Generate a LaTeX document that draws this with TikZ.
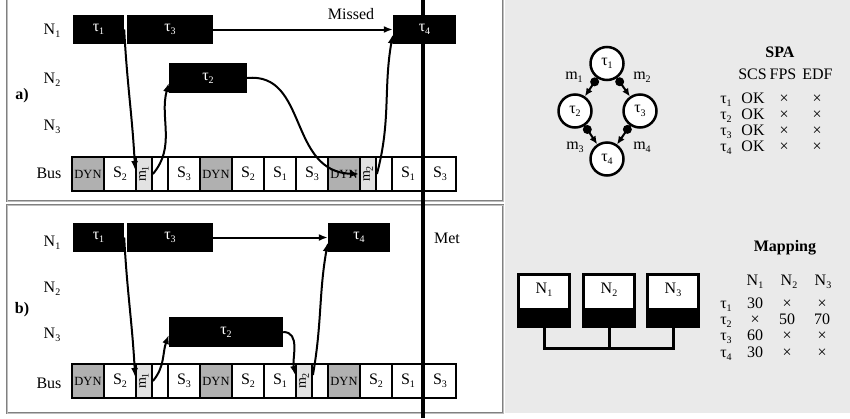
\documentclass[tikz,border=0pt]{standalone}
\usepackage{fontspec}
\setmainfont{Liberation Serif}
\usetikzlibrary{arrows.meta}
\definecolor{bgg}{RGB}{234,234,234}
\definecolor{dyng}{RGB}{176,176,176}
\definecolor{msg}{RGB}{226,226,226}
\definecolor{frameg}{RGB}{128,128,128}
\definecolor{framel}{RGB}{190,190,190}
\newcommand{\sbs}[1]{\raisebox{-0.45ex}{\fontsize{10}{10}\selectfont #1}}
\newcommand{\tms}{×}
\begin{document}
\begin{tikzpicture}[x=1pt,y=-1pt,font=\fontsize{16}{18}\selectfont,
  task/.style={fill=black,text=white,inner sep=0pt,minimum height=29pt},
  slot/.style={draw=black,line width=1.8pt,fill=white,minimum width=32pt,minimum height=34pt,inner sep=0pt},
  dyn/.style={slot,fill=dyng,font=\fontsize{12.5}{12.5}\selectfont},
  msl/.style={slot,fill=msg,minimum width=16pt,font=\fontsize{14}{14}\selectfont},
  esl/.style={slot,minimum width=16pt},
  arr/.style={line width=2pt,-{Latex[length=9pt,width=7pt]}},
  lbl/.style={inner sep=0pt},
  tbl/.style={inner sep=0pt,text height=9pt,text depth=2pt},
  panel/.style={draw=frameg,double=framel,double distance=0.9pt,line width=0.9pt,fill=white},
  gnode/.style={circle,draw=black,line width=2.5pt,fill=white,minimum size=33pt,inner sep=0pt},
  garr/.style={line width=2pt,-{Latex[length=8pt,width=7pt]}},
  dotn/.style={circle,fill=black,minimum size=9pt,inner sep=0pt},
  nbox/.style={draw=black,line width=1.8pt,fill=white,minimum width=50pt,minimum height=51pt,inner sep=0pt},
  busl/.style={line width=3pt}
]
\useasboundingbox (0,0) rectangle (850,418);
\fill[white] (0,0) rectangle (850,418);
\fill[bgg] (505,0) rectangle (850,413);
% panels
\draw[panel] (7,-5) rectangle (503,201);
\draw[panel] (7,205) rectangle (503,413);

% ---------- panel a ----------
\node[lbl] (na1) at (52,31) {N\sbs{1}};
\node[lbl] (na2) at (52,80) {N\sbs{2}};
\node[lbl] (na3) at (52,127) {N\sbs{3}};
\node[lbl] (busa) at (49,173) {Bus};
\node[lbl,font=\fontsize{16}{18}\selectfont\bfseries] (la) at (22,96) {a)};

\node[task,minimum width=51pt] (t1a) at (98.5,29.5) {τ\sbs{1}};
\node[task,minimum width=86pt] (t3a) at (170,29.5) {τ\sbs{3}};
\node[task,minimum width=78pt,minimum height=30pt] (t2a) at (208,78) {τ\sbs{2}};

\node[dyn] (a1) at (88,174) {DYN};
\node[slot] (a2) at (120,174) {S\sbs{2}};
\node[msl] (m1a) at (144,174) {\rotatebox{90}{m\sbs{1}}};
\node[esl] (a4) at (160,174) {};
\node[slot] (a5) at (184,174) {S\sbs{3}};
\node[dyn] (a6) at (216,174) {DYN};
\node[slot] (a7) at (248,174) {S\sbs{2}};
\node[slot] (a8) at (280,174) {S\sbs{1}};
\node[slot] (a9) at (312,174) {S\sbs{3}};
\node[dyn] (a10) at (344,174) {DYN};
\node[msl] (m2a) at (368,174) {\rotatebox{90}{m\sbs{2}}};
\node[esl] (a12) at (384,174) {};
\node[slot] (a13) at (408,174) {S\sbs{1}};
\node[slot] (a14) at (440,174) {S\sbs{3}};

% ---------- panel b ----------
\node[lbl] (nb1l) at (52,243) {N\sbs{1}};
\node[lbl] (nb2l) at (52,289) {N\sbs{2}};
\node[lbl] (nb3l) at (52,335) {N\sbs{3}};
\node[lbl] (busb) at (49,383) {Bus};
\node[lbl,font=\fontsize{16}{18}\selectfont\bfseries] (lb) at (22,310) {b)};

\node[task,minimum width=51pt] (t1b) at (98.5,237.5) {τ\sbs{1}};
\node[task,minimum width=86pt] (t3b) at (170,237.5) {τ\sbs{3}};
\node[task,minimum width=62pt] (t4b) at (359,237.5) {τ\sbs{4}};
\node[task,minimum width=114pt,minimum height=30pt] (t2b) at (226,332) {τ\sbs{2}};

\node[dyn] (b1) at (88,381) {DYN};
\node[slot] (b2) at (120,381) {S\sbs{2}};
\node[msl] (m1b) at (144,381) {\rotatebox{90}{m\sbs{1}}};
\node[esl] (b4) at (160,381) {};
\node[slot] (b5) at (184,381) {S\sbs{3}};
\node[dyn] (b6) at (216,381) {DYN};
\node[slot] (b7) at (248,381) {S\sbs{2}};
\node[slot] (b8) at (280,381) {S\sbs{1}};
\node[msl] (m2b) at (304,381) {\rotatebox{90}{m\sbs{2}}};
\node[esl] (b10) at (320,381) {};
\node[dyn] (b11) at (344,381) {DYN};
\node[slot] (b12) at (376,381) {S\sbs{2}};
\node[slot] (b13) at (408,381) {S\sbs{1}};
\node[slot] (b14) at (440,381) {S\sbs{3}};

% deadline line
\coordinate (dtop) at (423,0);
\coordinate (dbot) at (423,418);
\draw[line width=4.5pt] (dtop) -- (dbot);
\node[task,minimum width=63pt] (t4a) at (424.5,29.5) {τ\sbs{4}};

\node[lbl] (missed) at (351,14) {Missed};
\node[lbl] (met) at (447,238) {Met};

% arrows a
\draw[arr] (t3a.east) -- (t4a.west);
\draw[arr] (t1a.east) to[out=-87,in=93] ([yshift=4pt]m1a.west);
\draw[arr] (m1a.east) to[out=50,in=-105] ([yshift=-5pt]t2a.west);
\draw[arr] (t2a.east) .. controls (308,72) and (288,172) .. (m2a.west);
\draw[arr] (m2a.east) to[out=75,in=-100] ([yshift=-5pt]t4a.west);

% arrows b
\draw[arr] (t3b.east) -- (t4b.west);
\draw[arr] (t1b.east) to[out=-87,in=93] ([yshift=4pt]m1b.west);
\draw[arr] (m1b.east) to[out=50,in=-110] ([yshift=-3pt]t2b.west);
\draw[arr] (t2b.east) to[out=0,in=100] ([yshift=6pt]m2b.west);
\draw[arr] ([yshift=6pt]m2b.east) to[out=80,in=-100] ([yshift=-5pt]t4b.west);

% ---------- task graph ----------
\node[gnode] (g1) at (607,63.5) {τ\sbs{1}};
\node[gnode] (g2) at (575,111) {τ\sbs{2}};
\node[gnode] (g3) at (640,111) {τ\sbs{3}};
\node[gnode] (g4) at (607,159) {τ\sbs{4}};
\draw[garr] (g1) -- node[dotn,pos=0.2] (d1) {} (g2);
\draw[garr] (g1) -- node[dotn,pos=0.2] (d2) {} (g3);
\draw[garr] (g2) -- node[dotn,pos=0.2] (d3) {} (g4);
\draw[garr] (g3) -- node[dotn,pos=0.2] (d4) {} (g4);
\node[lbl] (lm1) at (574,77) {m\sbs{1}};
\node[lbl] (lm2) at (642,77) {m\sbs{2}};
\node[lbl] (lm3) at (575,147) {m\sbs{3}};
\node[lbl] (lm4) at (642,147) {m\sbs{4}};

% ---------- SPA table ----------
\node[lbl,font=\fontsize{16}{18}\selectfont\bfseries] (spa) at (780,52) {SPA};
\node[tbl] (hscs) at (752.5,76) {SCS};
\node[tbl] (hfps) at (783,76) {FPS};
\node[tbl] (hedf) at (817.5,76) {EDF};
\foreach \i/\yy in {1/99.5,2/115.5,3/131.5,4/148}{
  \node[tbl] (st\i) at (726,\yy) {τ\sbs{\i}};
  \node[tbl] (sok\i) at (753,\yy) {OK};
  \node[tbl] (sf\i) at (784,\yy) {\tms};
  \node[tbl] (se\i) at (817,\yy) {\tms};
}

% ---------- mapping ----------
\node[lbl,font=\fontsize{16}{18}\selectfont\bfseries] (mapt) at (785,248) {Mapping};
\node[lbl] (mh1) at (755,282) {N\sbs{1}};
\node[lbl] (mh2) at (789,282) {N\sbs{2}};
\node[lbl] (mh3) at (823,282) {N\sbs{3}};
\foreach \i/\yy/\va/\vb/\vc in {1/304.5/30/\tms/\tms,2/320.5/\tms/50/70,3/336.5/60/\tms/\tms,4/354/30/\tms/\tms}{
  \node[tbl] (mt\i) at (726,\yy) {τ\sbs{\i}};
  \node[tbl] (ma\i) at (755,\yy) {\va};
  \node[tbl] (mb\i) at (787,\yy) {\vb};
  \node[tbl] (mc\i) at (822,\yy) {\vc};
}

% ---------- architecture ----------
\foreach \k/\xx in {1/544,2/609,3/673}{
  \node[nbox] (nb\k) at (\xx,300.5) {};
  \fill ([yshift=19pt]nb\k.south west) rectangle (nb\k.south east);
  \draw[line width=1.8pt] (nb\k.north west) rectangle (nb\k.south east);
  \node[lbl] (nl\k) at (\xx,290) {N\sbs{\k}};
}
\coordinate (bl) at (544,348);
\coordinate (br) at (673,348);
\draw[busl] (nb1.south) -- (bl) -- (br) -- (nb3.south);
\draw[busl] (nb2.south) -- (nb2.south |- bl);
\end{tikzpicture}
\end{document}
